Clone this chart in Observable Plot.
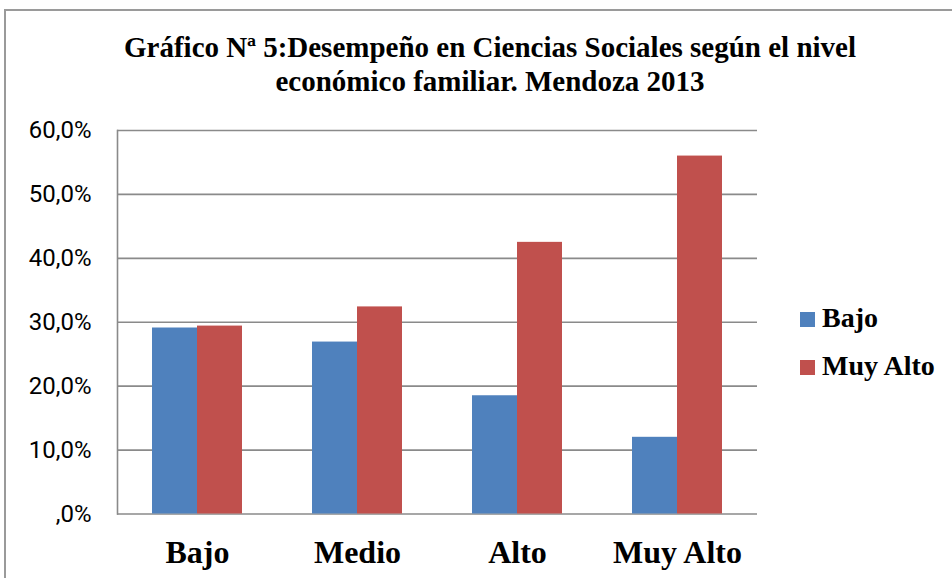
<!DOCTYPE html>
<html>
<head>
<meta charset="utf-8">
<script src="https://cdn.jsdelivr.net/npm/d3@7"></script>
<script src="https://cdn.jsdelivr.net/npm/@observablehq/plot@0.6"></script>
<style>
  html, body { margin: 0; padding: 0; background: #fff; }
  #wrap { position: relative; width: 952px; height: 578px; overflow: hidden; background: #fff; }
  #border { position: absolute; left: 4px; top: 9px; width: 1000px; height: 1000px; border: 2px solid #9a9a9a; box-sizing: border-box; }
  #title { position: absolute; left: 40px; top: 30px; width: 900px; text-align: center;
           font-family: "Liberation Serif", "Times New Roman", serif; font-weight: bold;
           font-size: 29px; line-height: 34px; color: #000; }
  #chart { position: absolute; left: 0; top: 110px; }
  .leg { position: absolute; left: 800px; font-family: "Liberation Serif", "Times New Roman", serif;
         font-weight: bold; font-size: 28px; line-height: 28px; color: #000; white-space: nowrap; }
  .leg .sw { position: absolute; left: 0; top: 8px; width: 15px; height: 15px; }
  .leg .lb { position: absolute; left: 22px; top: 0; }
</style>
</head>
<body>
<div id="wrap">
  <div id="border"></div>
  <div id="title">Gráfico Nª 5:Desempeño en Ciencias Sociales según el nivel<br>económico familiar. Mendoza 2013</div>
  <div id="chart"></div>
  <div id="legend"></div>
</div>
<script>
const categories = ["Bajo", "Medio", "Alto", "Muy Alto"];
const series = ["Bajo", "Muy Alto"];
const bajoValues = [29.1, 26.9, 18.5, 12.0];
const muyAltoValues = [29.4, 32.4, 42.5, 56.0];
const yTicks = [0, 10, 20, 30, 40, 50, 60];
const colors = ["#4F81BD", "#C0504D"];

const data = categories.flatMap((c, i) => [
  {cat: c, serie: series[0], value: bajoValues[i]},
  {cat: c, serie: series[1], value: muyAltoValues[i]}
]);

const gridColor = "#8a8a8a";

const chart = Plot.plot({
  width: 952,
  height: 468,
  marginTop: 20,
  marginBottom: 64.5,
  marginLeft: 116,
  marginRight: 195,
  style: {background: "transparent", overflow: "visible"},
  fx: {domain: categories, padding: 0, label: null},
  x: {domain: series, paddingInner: 0, paddingOuter: 0.753, axis: null},
  y: {domain: [0, 60], label: null},
  color: {domain: series, range: colors},
  marks: [
    Plot.ruleY(yTicks, {stroke: gridColor, strokeWidth: 1.6}),
    Plot.barY(data, {fx: "cat", x: "serie", y: "value", fill: "serie", inset: 0}),
    Plot.frame({anchor: "left", facetAnchor: "left", stroke: gridColor, strokeWidth: 1.6}),
    Plot.axisY({
      ticks: yTicks,
      tickSize: 0,
      tickPadding: 26,
      label: null,
      tickFormat: d => (d === 0 ? "" : d) + ",0%",
      fontSize: 24,
      fontFamily: "Roboto, 'Liberation Sans', sans-serif",
      fill: "#000"
    }),
    Plot.axisFx({
      anchor: "bottom",
      tickSize: 0,
      tickPadding: 25.8,
      label: null,
      fontSize: 32,
      fontWeight: "bold",
      fontFamily: "'Liberation Serif', 'Times New Roman', serif",
      fill: "#000"
    })
  ]
});
document.getElementById("chart").appendChild(chart);

const legend = document.getElementById("legend");
const legendTops = [304, 351.5];
series.forEach((s, i) => {
  const row = document.createElement("div");
  row.className = "leg";
  row.style.top = legendTops[i] + "px";
  const sw = document.createElement("div");
  sw.className = "sw";
  sw.style.background = colors[i];
  const lb = document.createElement("div");
  lb.className = "lb";
  lb.textContent = s;
  row.appendChild(sw);
  row.appendChild(lb);
  legend.appendChild(row);
});
</script>
</body>
</html>
